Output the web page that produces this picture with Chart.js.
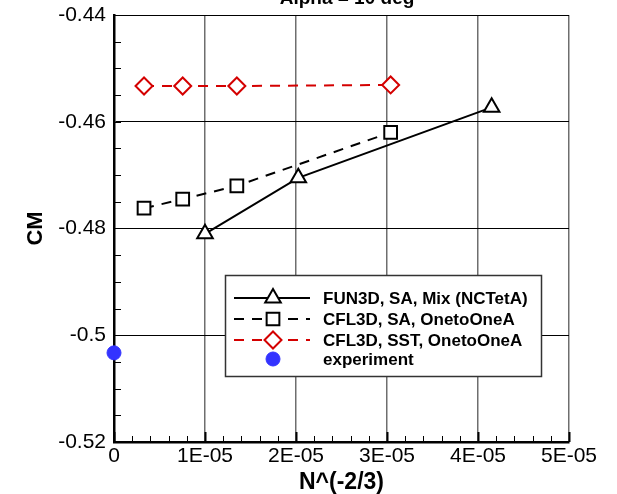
<!DOCTYPE html>
<html>
<head>
<meta charset="utf-8">
<script src="https://cdn.jsdelivr.net/npm/chart.js@4/dist/chart.umd.min.js"></script>
<style>
  html, body { margin: 0; padding: 0; background: #fff; }
  #wrap { width: 617px; height: 494px; }
</style>
</head>
<body>
<div id="wrap"><canvas id="cm-chart" width="617" height="494"></canvas></div>
<script>
// values
var xTicks = [0, 1e-5, 2e-5, 3e-5, 4e-5, 5e-5];
var yTicks = [-0.52, -0.5, -0.48, -0.46, -0.44];

var fun3dX = [1.0e-5, 2.025e-5, 4.15e-5];
var fun3dY = [-0.4810, -0.4705, -0.4573];

var cflSaX = [0.33e-5, 0.755e-5, 1.35e-5, 3.04e-5];
var cflSaY = [-0.4762, -0.4745, -0.4720, -0.4620];

var cflSstX = [0.33e-5, 0.755e-5, 1.35e-5, 3.04e-5];
var cflSstY = [-0.4533, -0.4533, -0.4533, -0.4531];

var expX = [0];
var expY = [-0.5033];

var seriesNames = ["FUN3D, SA, Mix (NCTetA)", "CFL3D, SA, OnetoOneA", "CFL3D, SST, OnetoOneA", "experiment"];

function pts(xs, ys) {
    return xs.map(function(x, i) { return { x: x, y: ys[i] }; });
}

var FONT = "'Liberation Sans', Arial, sans-serif";

// tecplot style frame, minor ticks, legend box and cut-off title
var decor = {
    id: 'decor',
    beforeDatasetsDraw: function(chart) {
        var ctx = chart.ctx, a = chart.chartArea;
        var xs = chart.scales.x, ys = chart.scales.y;
        ctx.save();
        ctx.strokeStyle = '#000';
        ctx.lineWidth = 1;
        // y minor ticks
        for (var v = -0.52; v <= -0.44 + 1e-9; v += 0.005) {
            var py = Math.round(ys.getPixelForValue(v)) + 0.5;
            ctx.beginPath();
            ctx.moveTo(a.left, py);
            ctx.lineTo(a.left + 7, py);
            ctx.stroke();
        }
        // x minor ticks
        for (var k = 0; k <= 25; k++) {
            var px = Math.round(xs.getPixelForValue(k * 0.2e-5)) + 0.5;
            var len = (k % 5 === 0) ? 10 : 6;
            ctx.lineWidth = (k % 5 === 0) ? 2 : 1;
            ctx.beginPath();
            ctx.moveTo(px, a.bottom);
            ctx.lineTo(px, a.bottom - len);
            ctx.stroke();
        }
        ctx.restore();
    },
    afterDraw: function(chart) {
        var ctx = chart.ctx;
        var ds = chart.data.datasets;
        ctx.save();
        // title, mostly above the canvas
        ctx.fillStyle = '#000';
        ctx.font = 'bold 19px ' + FONT;
        ctx.textAlign = 'center';
        ctx.textBaseline = 'alphabetic';
        ctx.fillText('Alpha = 10 deg', 347, 4);

        // legend
        var bx = 225, by = 275, bw = 316, bh = 101;
        ctx.fillStyle = '#fff';
        ctx.fillRect(bx, by, bw, bh);
        ctx.strokeStyle = '#333';
        ctx.lineWidth = 1.5;
        ctx.strokeRect(bx + 0.5, by + 0.5, bw, bh);

        var rows = [298, 319, 340, 359];
        ctx.font = 'bold 17px ' + FONT;
        ctx.textAlign = 'left';
        ctx.textBaseline = 'middle';
        for (var i = 0; i < ds.length; i++) {
            var d = ds[i], y = rows[i];
            if (d.showLine) {
                ctx.strokeStyle = d.borderColor;
                ctx.lineWidth = d.borderWidth;
                ctx.setLineDash(d.borderDash || []);
                ctx.beginPath();
                ctx.moveTo(234, y);
                ctx.lineTo(310, y);
                ctx.stroke();
                ctx.setLineDash([]);
            }
            ctx.fillStyle = d.pointBackgroundColor;
            ctx.strokeStyle = d.pointBorderColor;
            ctx.lineWidth = d.pointBorderWidth;
            Chart.helpers.drawPoint(ctx, {
                pointStyle: d.pointStyle, radius: d.pointRadius,
                rotation: 0, borderWidth: d.pointBorderWidth
            }, 273, y);
            ctx.fillStyle = '#000';
            ctx.fillText(seriesNames[i], 323, y + 1);
        }
        ctx.restore();
    }
};

function noPad(s) {
    s.paddingTop = 0; s.paddingBottom = 0;
    s.paddingLeft = 0; s.paddingRight = 0;
}

var ctx = document.getElementById('cm-chart').getContext('2d');
window.cmChart = new Chart(ctx, {
    type: 'scatter',
    data: {
        datasets: [
        {
            label: seriesNames[0],
            data: pts(fun3dX, fun3dY),
            showLine: true,
            borderColor: '#000',
            borderWidth: 2,
            pointStyle: 'triangle',
            pointRadius: 9,
            pointBackgroundColor: '#fff',
            pointBorderColor: '#000',
            pointBorderWidth: 2
        },
        {
            label: seriesNames[1],
            data: pts(cflSaX, cflSaY),
            showLine: true,
            borderColor: '#000',
            borderWidth: 2,
            borderDash: [10, 8],
            pointStyle: 'rect',
            pointRadius: 9,
            pointBackgroundColor: '#fff',
            pointBorderColor: '#000',
            pointBorderWidth: 2
        },
        {
            label: seriesNames[2],
            data: pts(cflSstX, cflSstY),
            showLine: true,
            borderColor: '#d40000',
            borderWidth: 2,
            borderDash: [10, 8],
            pointStyle: 'rectRot',
            pointRadius: 8.5,
            pointBackgroundColor: '#fff',
            pointBorderColor: '#d40000',
            pointBorderWidth: 2
        },
        {
            label: seriesNames[3],
            data: pts(expX, expY),
            showLine: false,
            clip: false,
            pointStyle: 'circle',
            pointRadius: 7,
            pointBackgroundColor: '#3333ff',
            pointBorderColor: '#3333ff',
            pointBorderWidth: 1
        }]
    },
    options: {
        responsive: false,
        animation: false,
        devicePixelRatio: 1,
        layout: { padding: { top: 15, right: 48, left: 0, bottom: 0 } },
        plugins: {
            legend: { display: false },
            title: { display: false },
            tooltip: { enabled: false }
        },
        scales: {
            x: {
                type: 'linear',
                min: 0,
                max: 5e-5,
                afterBuildTicks: function(s) { s.ticks = xTicks.map(function(v) { return { value: v }; }); },
                afterFit: function(s) { s.height = 52; noPad(s); },
                ticks: {
                    color: '#000',
                    font: { family: FONT, size: 21 },
                    padding: 2,
                    maxRotation: 0,
                    autoSkip: false,
                    callback: function(v) {
                        if (Math.abs(v) < 1e-12) return '0';
                        return Math.round(v * 1e5) + 'E-05';
                    }
                },
                grid: { color: '#6e6e6e', lineWidth: 1.5, drawTicks: false },
                border: { display: true, color: '#000', width: 2.5 },
                title: {
                    display: true,
                    text: 'N^(-2/3)',
                    color: '#000',
                    font: { family: FONT, size: 23, weight: 'bold', lineHeight: 1 },
                    padding: { top: 0, bottom: 0 }
                }
            },
            y: {
                type: 'linear',
                min: -0.52,
                max: -0.44,
                afterBuildTicks: function(s) { s.ticks = yTicks.map(function(v) { return { value: v }; }); },
                afterFit: function(s) { s.width = 114; noPad(s); },
                ticks: {
                    color: '#000',
                    font: { family: FONT, size: 21 },
                    padding: 8,
                    autoSkip: false,
                    callback: function(v) { return String(parseFloat(v.toFixed(4))); }
                },
                grid: { color: '#000', lineWidth: 1, drawTicks: false },
                border: { display: true, color: '#000', width: 2.5 },
                title: {
                    display: true,
                    text: 'CM',
                    color: '#000',
                    font: { family: FONT, size: 22, weight: 'bold', lineHeight: 1 },
                    padding: { top: 25, bottom: 0 }
                }
            }
        }
    },
    plugins: [decor]
});
</script>
</body>
</html>
